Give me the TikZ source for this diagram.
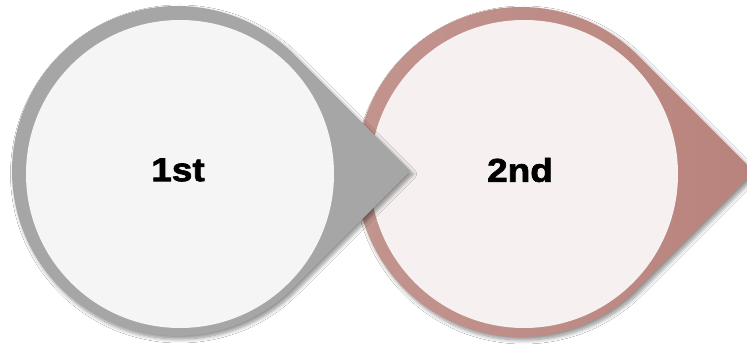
\documentclass[tikz,border=0pt]{standalone}
\usepackage{fontspec}
\usetikzlibrary{shadows.blur}
\newfontfamily\heavy{Liberation Sans}[UprightFont={* Bold},FakeBold=2,FakeStretch=1.12]
\definecolor{ringgray}{HTML}{A6A6A6}
\definecolor{facegray}{HTML}{F5F5F5}
\definecolor{ringroseL}{HTML}{C3958F}
\definecolor{ringroseD}{HTML}{B9837D}
\definecolor{facerose}{HTML}{F6F0F0}
\tikzset{
  softshadow/.style={blur shadow={shadow xshift=2.5pt,shadow yshift=-3pt,
      shadow blur radius=4pt,shadow blur steps=8,shadow opacity=45}},
  label/.style={font=\heavy\fontsize{33}{33}\selectfont,text=black,inner sep=0pt}
}
\begin{document}
\begin{tikzpicture}[x=1pt,y=1pt]
  \useasboundingbox (0,0) rectangle (747,345);
  \fill[white] (0,0) rectangle (747,345);

  % second teardrop (rose)
  \coordinate (c2) at (521,173);
  \path[softshadow,left color=ringroseL,right color=ringroseD]
    (c2) ++(45:165) arc[start angle=45,end angle=315,radius=165]
    -- ++(116.67,116.67) -- cycle;
  \fill[facerose] (524,171) circle[radius=154];
  \node[label] (t2) at (520,175) {2nd};

  % first teardrop (gray), lying over the second
  \coordinate (c1) at (177,174);
  \path[softshadow,fill=ringgray]
    (c1) ++(45:165) arc[start angle=45,end angle=315,radius=165]
    -- ++(116.67,116.67) -- cycle;
  \fill[facegray] (180,171) circle[radius=154];
  \node[label] (t1) at (178,175) {1st};
\end{tikzpicture}
\end{document}
